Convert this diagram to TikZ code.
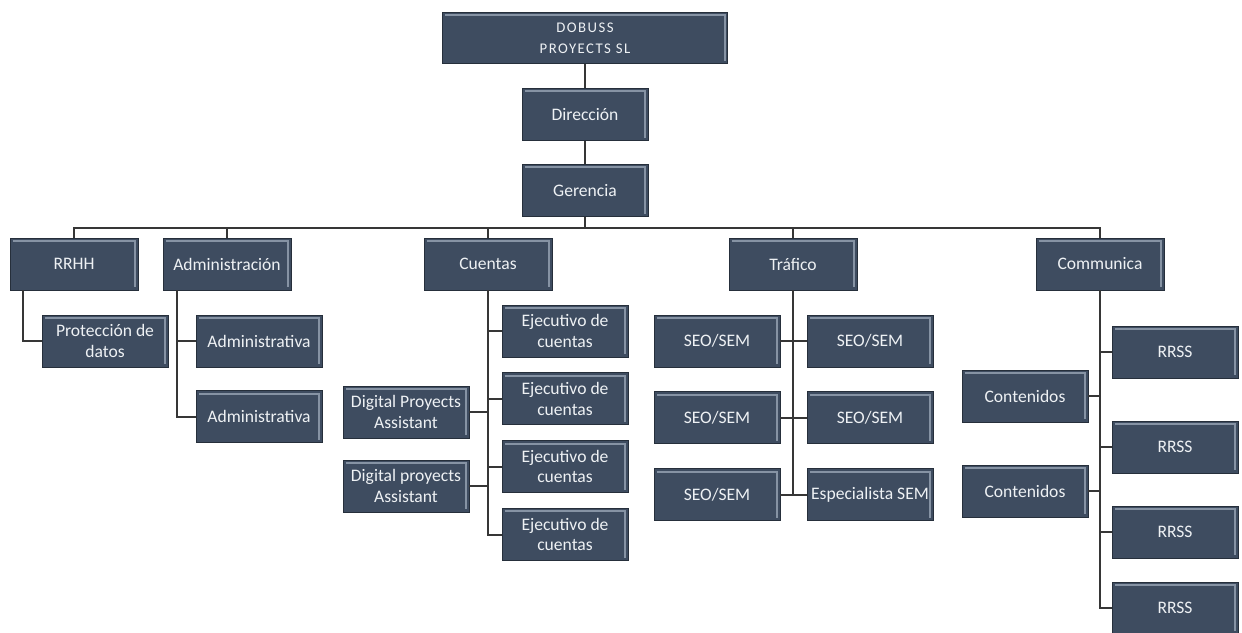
\documentclass[tikz,border=0pt]{standalone}
\usepackage{fontspec}
\setmainfont{Carlito}
\newfontfamily\capsfont[LetterSpace=10]{Carlito}
\usetikzlibrary{positioning, calc}
\definecolor{boxblue}{HTML}{3E4C60}
\definecolor{boxedge}{HTML}{262F3B}
\definecolor{boxlight}{HTML}{8693A4}
\definecolor{boxtext}{HTML}{EEF1F4}
\definecolor{linkgray}{HTML}{363636}
\tikzset{
    box/.style={rectangle, minimum width=3.15cm, minimum height=1.3cm, inner sep=1pt, align=center,
        fill=boxblue, draw=boxedge, line width=0.6pt, text=boxtext, font=\fontsize{12.5}{14.5}\selectfont,
        path picture={
            \draw[boxlight, line width=1.4pt]
                ([xshift=2pt,yshift=-2pt]path picture bounding box.north west) --
                ([xshift=-2pt,yshift=-2pt]path picture bounding box.north east) --
                ([xshift=-2pt,yshift=2pt]path picture bounding box.south east);
        }},
    headbox/.style={box, minimum width=3.2cm},
    rootbox/.style={box, minimum width=7.125cm, minimum height=1.28cm, font=\capsfont\fontsize{10.5}{15}\selectfont},
    link/.style={linkgray, line width=1.4pt}
}
\begin{document}
\begin{tikzpicture}[x=0.025cm, y=-0.025cm]
\useasboundingbox (0,0) rectangle (1242,632);

% Top of the chart
\node (dobuss) [rootbox] at (585,38) {DOBUSS\\PROYECTS SL};
\node (direccion) [box, below=0.6cm of dobuss] {Dirección};
\node (gerencia) [box, below=0.575cm of direccion] {Gerencia};

% Departments
\coordinate (bus) at (0,228);
\node (rrhh) [headbox] at (74,264) {RRHH};
\node (admin) [headbox] at (227,264) {Administración};
\node (cuentas) [headbox] at (488,264) {Cuentas};
\node (trafico) [headbox] at (793,264) {Tráfico};
\node (communica) [headbox] at (1100,264) {Communica};

% RRHH and Administracion staff
\node (proteccion) [box] at (105,341) {Protección de\\datos};
\node (adm1) [box] at (259,341) {Administrativa};
\node (adm2) [box, below=0.575cm of adm1] {Administrativa};

% Cuentas staff
\node (ejec1) [box] at (565,331) {Ejecutivo de\\cuentas};
\node (ejec2) [box, below=0.375cm of ejec1] {Ejecutivo de\\cuentas};
\node (ejec3) [box, below=0.375cm of ejec2] {Ejecutivo de\\cuentas};
\node (ejec4) [box, below=0.375cm of ejec3] {Ejecutivo de\\cuentas};
\node (dpa1) [box] at (406,412) {Digital Proyects\\Assistant};
\node (dpa2) [box] at (406,486) {Digital proyects\\Assistant};

% Trafico staff
\node (seol1) [box] at (717,341) {SEO/SEM};
\node (seol2) [box, below=0.6cm of seol1] {SEO/SEM};
\node (seol3) [box, below=0.6cm of seol2] {SEO/SEM};
\node (seor1) [box] at (870,341) {SEO/SEM};
\node (seor2) [box, below=0.6cm of seor1] {SEO/SEM};
\node (esp) [box, below=0.6cm of seor2] {Especialista SEM};

% Communica staff
\node (rrss1) [box] at (1175,352) {RRSS};
\node (rrss2) [box] at (1175,447) {RRSS};
\node (rrss3) [box] at (1175,532) {RRSS};
\node (rrss4) [box] at (1175,608) {RRSS};
\node (cont1) [box] at (1025,396) {Contenidos};
\node (cont2) [box] at (1025,491) {Contenidos};

% Top chain
\draw [link] (dobuss) -- (direccion);
\draw [link] (direccion) -- (gerencia);
\draw [link] (gerencia.south) -- (gerencia.south |- bus);

% Bus to the departments
\draw [link] (rrhh.north) -- (rrhh.north |- bus) -- (communica.north |- bus) -- (communica.north);
\draw [link] (admin.north |- bus) -- (admin.north);
\draw [link] (cuentas.north |- bus) -- (cuentas.north);
\draw [link] (trafico.north |- bus) -- (trafico.north);

% Staff connectors
\draw [link] ($(rrhh.south west)+(13,0)$) |- (proteccion.west);
\coordinate (admspine) at ($(admin.south west)+(14,0)$);
\draw [link] (admspine) |- (adm1.west);
\draw [link] (admspine) |- (adm2.west);

\draw [link] (cuentas.south) |- (ejec4.west);
\draw [link] (cuentas.south) |- (ejec1.west);
\draw [link] (cuentas.south) |- (ejec2.west);
\draw [link] (cuentas.south) |- (ejec3.west);
\draw [link] (dpa1.east) -- (dpa1.east -| cuentas.south);
\draw [link] (dpa2.east) -- (dpa2.east -| cuentas.south);

\draw [link] (trafico.south) -- (trafico.south |- esp.west);
\draw [link] (seol1.east) -- (seor1.west);
\draw [link] (seol2.east) -- (seor2.west);
\draw [link] (seol3.east) -- (esp.west);

\draw [link] (communica.south) |- (rrss4.west);
\draw [link] (communica.south) |- (rrss1.west);
\draw [link] (communica.south) |- (rrss2.west);
\draw [link] (communica.south) |- (rrss3.west);
\draw [link] (cont1.east) -- (cont1.east -| communica.south);
\draw [link] (cont2.east) -- (cont2.east -| communica.south);

\end{tikzpicture}
\end{document}
